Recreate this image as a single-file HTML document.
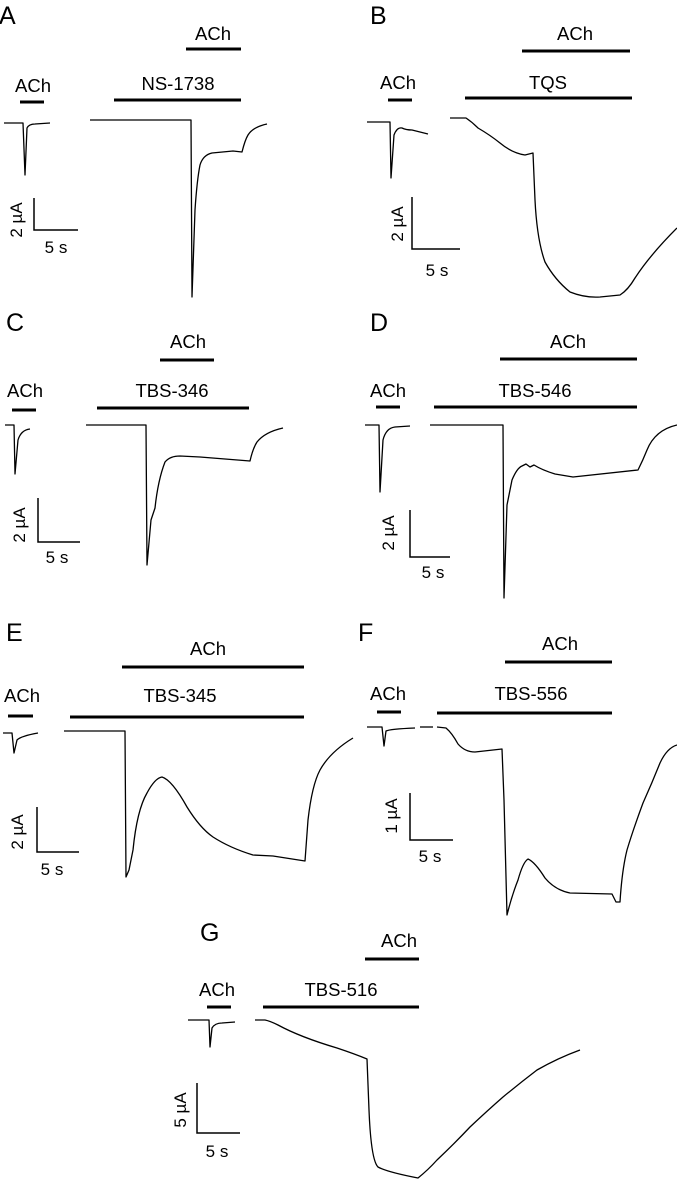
<!DOCTYPE html>
<html><head><meta charset="utf-8"><style>
html,body{margin:0;padding:0;background:#fff;}
svg{display:block;}
text{font-family:"Liberation Sans",sans-serif;fill:#000;}
.l{font-size:25px;}
.t{font-size:18.5px;}
.s{font-size:17px;}
</style></head><body>
<svg width="677" height="1181" viewBox="0 0 677 1181" xmlns="http://www.w3.org/2000/svg">
<g stroke="#000" fill="none" stroke-width="1.3" stroke-linejoin="round">
<!-- A -->
<path d="M4,123 L23,123 L25,175 L27,128 Q29,124 35,124 L50,123"/>
<path d="M90,120 L191,120 L192,297 L195,210 Q197,180 200,165 Q203,155 212,153 L233,151 L242,152 Q245,140 248,135 Q253,127 267,124"/>
<!-- B -->
<path d="M367,122 L390,122 L391,178 L394,135 Q397,127 402,128 Q406,130 412,130 L428,134"/>
<path d="M450,118 L466,118 Q472,122 478,128 Q490,135 500,143 Q512,153 525,155 L533,153 L535,200 Q537,240 545,262 Q555,280 570,292 Q585,298 600,297 L620,295 Q628,290 635,278 Q650,255 677,228"/>
<!-- C -->
<path d="M5,425 L14,425 L15,474 L18,440 Q21,430 30,429"/>
<path d="M86,425 L146,425 L147,565 L151,520 L155,508 Q158,480 165,462 Q170,456 180,456 L200,457 L250,461 Q253,448 257,442 Q265,432 283,428"/>
<!-- D -->
<path d="M365,425 L379,425 L380,492 L383,440 Q386,428 395,427 L410,426"/>
<path d="M430,425 L503,425 L504,598 L507,505 L512,480 Q517,468 522,466 L526,464 L530,467 L534,465 Q542,470 555,474 L573,477 L638,470 Q643,460 647,450 Q655,430 677,425"/>
<!-- E -->
<path d="M3,733 L12,733 L14,753 L17,740 Q21,736 38,733"/>
<path d="M64,731 L125,731 L126,877 L129,870 L133,850 Q137,810 147,793 Q155,778 162,777 Q172,780 187,807 Q200,828 213,837 Q230,848 253,855 L273,856 L305,861 L308,820 Q312,785 320,770 Q330,752 353,738"/>
<!-- F -->
<path d="M367,727 L382,727 L384,746 L386,731 Q390,729 415,728"/>
<path d="M420,727 L433,727"/>
<path d="M437,727 L446,728 Q452,733 458,744 Q465,752 475,752 L502,749 L504,800 L507,915 Q512,895 518,880 Q523,862 528,859 Q535,862 545,878 Q555,890 570,893 L612,894 L616,902 L620,902 Q622,870 627,850 Q633,830 643,803 Q652,783 660,763 Q667,748 677,745"/>
<!-- G -->
<path d="M188,1020 L209,1020 L210,1047 L212,1028 Q215,1023 222,1023 L235,1022"/>
<path d="M255,1020 L265,1020 Q270,1021 278,1025 Q300,1037 337,1048 Q355,1054 367,1059 L369,1110 Q371,1160 378,1167 Q387,1172 418,1178 Q428,1170 437,1160 Q455,1143 470,1127 Q487,1111 503,1097 Q520,1083 537,1070 Q558,1058 580,1050"/>
</g>
<g stroke="#000" fill="none" stroke-width="3">
<path d="M20,102H44 M186,49H241 M114,100H241"/>
<path d="M388,100H412 M522,51H630 M465,98H632"/>
<path d="M12,410H36 M160,360H214 M97,408H249"/>
<path d="M376,407H400 M500,359H637 M434,407H637"/>
<path d="M8,716H33 M122,667H304 M70,717H304"/>
<path d="M377,712H401 M505,662H612 M437,713H612"/>
<path d="M207,1007H231 M365,959H419 M263,1007H419"/>
</g>
<g stroke="#000" fill="none" stroke-width="1.5">
<path d="M34,198V230H78"/>
<path d="M412,197V249H460"/>
<path d="M38,498V542H80"/>
<path d="M410,510V557H450"/>
<path d="M37,807V852H79"/>
<path d="M410,793V840H453"/>
<path d="M197,1083V1133H240"/>
</g>
<text class="l" x="-1" y="24">A</text>
<text class="l" x="370" y="24">B</text>
<text class="l" x="6" y="331">C</text>
<text class="l" x="370" y="331">D</text>
<text class="l" x="6" y="641">E</text>
<text class="l" x="358" y="641">F</text>
<text class="l" x="200" y="941">G</text>
<g class="t" text-anchor="middle">
<text x="33" y="92">ACh</text><text x="213" y="40">ACh</text><text x="178" y="90">NS-1738</text>
<text x="398" y="89">ACh</text><text x="575" y="40">ACh</text><text x="548" y="89">TQS</text>
<text x="25" y="397">ACh</text><text x="188" y="348">ACh</text><text x="172" y="397">TBS-346</text>
<text x="388" y="397">ACh</text><text x="568" y="348">ACh</text><text x="535" y="397">TBS-546</text>
<text x="22" y="702">ACh</text><text x="208" y="655">ACh</text><text x="180" y="702">TBS-345</text>
<text x="388" y="700">ACh</text><text x="560" y="650">ACh</text><text x="531" y="700">TBS-556</text>
<text x="217" y="996">ACh</text><text x="399" y="947">ACh</text><text x="341" y="996">TBS-516</text>
</g>
<g class="s" text-anchor="middle">
<text x="56" y="253">5 s</text><text transform="translate(22,220) rotate(-90)">2 µA</text>
<text x="437" y="276">5 s</text><text transform="translate(403,224) rotate(-90)">2 µA</text>
<text x="57" y="563">5 s</text><text transform="translate(25,525) rotate(-90)">2 µA</text>
<text x="433" y="578">5 s</text><text transform="translate(394,533) rotate(-90)">2 µA</text>
<text x="52" y="875">5 s</text><text transform="translate(23,832) rotate(-90)">2 µA</text>
<text x="430" y="862">5 s</text><text transform="translate(397,816) rotate(-90)">1 µA</text>
<text x="217" y="1157">5 s</text><text transform="translate(186,1110) rotate(-90)">5 µA</text>
</g>
</svg>
</body></html>
